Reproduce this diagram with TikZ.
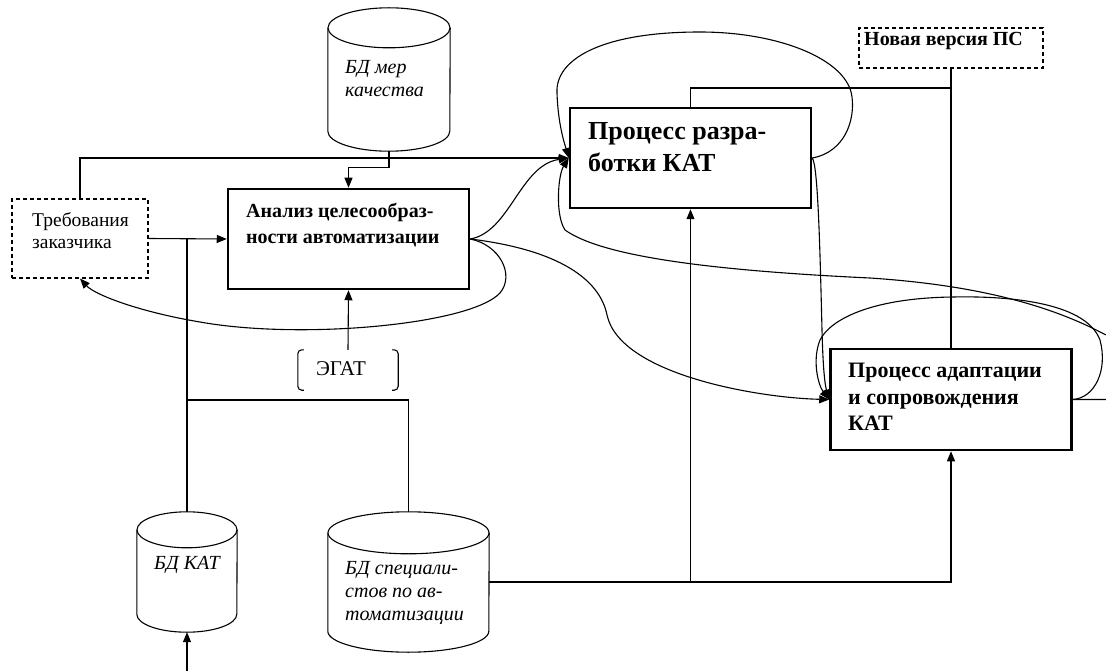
\documentclass[tikz,border=0pt]{standalone}
\usepackage{fontspec}
\setmainfont{Liberation Serif}
\usetikzlibrary{arrows.meta,calc}
\newcommand\cylout[3]{%
  \draw[thinline] ([yshift=-#3]#1.north west) -- ([yshift=#3]#1.south west)
     arc[start angle=180,end angle=360,x radius=#2,y radius=#3]
     -- ([yshift=-#3]#1.north east);
  \draw[thinline] ([yshift=-#3]#1.north) ellipse[x radius=#2,y radius=#3];}
\begin{document}
\begin{tikzpicture}[x=1pt,y=-1pt,
  thinline/.style={line width=1.1pt},
  arr/.style={thinline,-{Triangle[length=10pt,width=8pt]}},
  procbox/.style={draw,line width=2.5pt,inner sep=0,minimum width=241pt,minimum height=100pt},
  dashbox/.style={draw,line width=1.1pt,dash pattern=on 4pt off 3pt,inner sep=0},
  ghost/.style={draw=none,inner sep=0},
  lbl/.style={inner sep=0,anchor=north west,align=left},
  regtxt/.style={font=\fontsize{19.5}{22}\selectfont},
  itxt/.style={font=\itshape\fontsize{20}{23}\selectfont},
  boldtxt/.style={font=\bfseries\fontsize{20}{26}\selectfont}]
\useasboundingbox (0,0) rectangle (1106,671);
\clip (0,0) rectangle (1106,671);

% boxes
\node[dashbox,minimum width=136pt,minimum height=79pt] (treb) at (80,238.5) {};
\node[lbl,regtxt] (trebt) at (32,212) {Требования\\заказчика};
\node[procbox] (anal) at (348.5,239) {};
\node[lbl,boldtxt] (analt) at (246,203) {Анализ целесообраз-\\ности автоматизации};
\node[procbox] (razr) at (690.5,158) {};
\node[lbl,font=\bfseries\fontsize{26}{32}\selectfont] (razrt) at (588,122) {Процесс разра-\\ботки КАТ};
\node[procbox,minimum height=101pt] (adap) at (951,399.5) {};
\node[lbl,font=\bfseries\fontsize{22}{26.5}\selectfont] (adapt) at (848,363) {Процесс адаптации\\и сопровождения\\КАТ};
\node[dashbox,minimum width=184pt,minimum height=40pt] (nov) at (951,48) {};
\node[lbl,font=\bfseries\fontsize{20}{24}\selectfont] (novt) at (864,32) {Новая версия ПС};
\node[ghost,minimum width=100pt,minimum height=40pt] (egat) at (348,370) {};
\node[inner sep=0,font=\fontsize{21}{24}\selectfont] (egatt) at (341,368.5) {ЭГАТ};
\draw[thinline,rounded corners=4pt] ([xshift=6pt]egat.north west) -- (egat.north west) -- (egat.south west) -- ([xshift=6pt]egat.south west);
\draw[thinline,rounded corners=4pt] ([xshift=-6pt]egat.north east) -- (egat.north east) -- (egat.south east) -- ([xshift=-6pt]egat.south east);

% cylinders
\node[ghost,minimum width=122pt,minimum height=143pt] (bdm) at (389,79.5) {};
\cylout{bdm}{61pt}{20pt}
\node[lbl,itxt] (bdmt) at (345,60) {БД мер\\качества};
\node[ghost,minimum width=100pt,minimum height=120pt] (bdk) at (187,572) {};
\cylout{bdk}{50pt}{18pt}
\node[lbl,itxt] (bdkt) at (154,556) {БД КАТ};
\node[ghost,minimum width=161pt,minimum height=140pt] (bds) at (408.5,582) {};
\cylout{bds}{80.5pt}{21pt}
\node[lbl,itxt] (bdst) at (345,561) {БД специали-\\стов по ав-\\томатизации};

\coordinate (j400) at (187,400);
\coordinate (bottom) at (187,671);
\coordinate (j88) at (951,88);

% straight connectors
\draw[arr] (treb.north) |- (razr.west);
\draw[arr] (bdm.south) -- ++(0,16) -| (anal.north);
\draw[arr] (treb.east) -- (anal.west);
\draw[arr] (egat.north) -- (anal.south);
\draw[thinline] (bdk.north) -- (bdk.north |- anal.west);
\draw[thinline] (j400) -| (bds.north);
\draw[arr] (bds.east) -| (adap.south);
\draw[arr] (razr.south |- bds.east) -- (razr.south);
\draw[arr] (bottom) -- (bdk.south);
\draw[thinline] (nov.south) -- (adap.north);
\draw[thinline] (j88) -| (razr.north);

% curved connectors
\draw[arr] (anal.east) .. controls (500,245) and (515,275) .. (500,293)
   .. controls (470,325) and (300,340) .. (200,322)
   .. controls (140,312) and (95,295) .. (treb.south);
\draw[arr] (anal.east) .. controls (510,232) and (520,165) .. (razr.west);
\draw[arr] (anal.east) .. controls (560,250) and (600,280) .. (607,315)
   .. controls (620,375) and (760,398) .. (adap.west);
\draw[arr] (razr.east) .. controls (845,152) and (855,120) .. (852,97)
   .. controls (848,60) and (780,32) .. (700,32)
   .. controls (600,32) and (555,60) .. (557,93)
   .. controls (558,125) and (565,145) .. (razr.west);
\draw[arr] (adap.east) -- (1110,399.5) .. controls (1150,399.5) and (1145,350) .. (1104,334)
   .. controls (1040,300) and (960,284) .. (870,278)
   .. controls (700,270) and (600,255) .. (565,230)
   .. controls (555,215) and (558,175) .. (razr.west);
\draw[arr] (adap.east) .. controls (1095,398) and (1108,370) .. (1100,340)
   .. controls (1085,300) and (1000,296) .. (953,297)
   .. controls (870,298) and (830,320) .. (820,340)
   .. controls (812,360) and (818,385) .. (adap.west);
\draw[arr] (razr.east) .. controls (818,165) and (820,250) .. (822,330)
   .. controls (823,370) and (825,385) .. (adap.west);
\end{tikzpicture}
\end{document}
